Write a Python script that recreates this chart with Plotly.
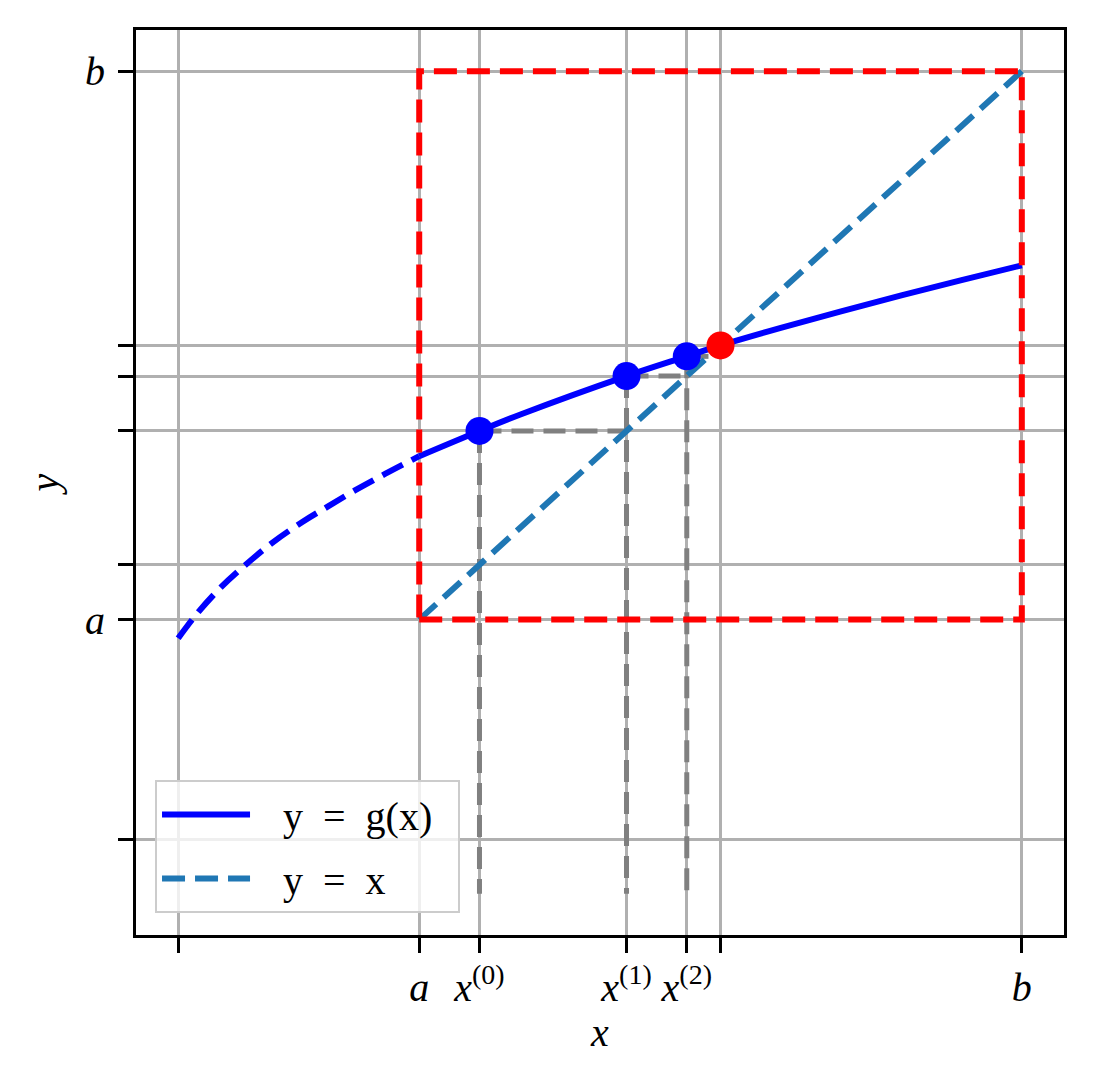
import plotly.graph_objects as go

# ---- data ----
a = 2.0
b = 7.0
x_star = 4.5
iterates = [2.5, 3.72, 4.22, 4.40]          # x(0), x(1), x(2), x(3) = g(x(2))
y_floor = -0.5                               # lower end of the vertical guide lines

# g(x) outside [a, b] (dashed part), read point by point
ext_x = [0.0, 0.16, 0.36, 0.56, 0.78, 1.03, 1.24, 1.47, 1.72, 2.0]
ext_y = [1.83, 2.06, 2.30, 2.50, 2.70, 2.89, 3.03, 3.18, 3.33, 3.49]
# g(x) on [a, b] (solid part)
g_x = [2.0, 2.5, 2.84, 3.72, 4.22, 4.5, 5.0, 5.5, 6.0, 6.5, 7.0]
g_y = [3.49, 3.72, 3.87, 4.22, 4.40, 4.5, 4.66, 4.81, 4.955, 5.095, 5.23]

x_major_vals = [a, iterates[0], iterates[1], iterates[2], b]
x_major_text = ["<i>a</i>", "<i>x</i><sup>(0)</sup>", "<i>x</i><sup>(1)</sup>",
                "<i>x</i><sup>(2)</sup>", "<i>b</i>"]
x_minor_vals = [0.0, x_star]
y_major_vals = [a, b]
y_major_text = ["<i>a</i>", "<i>b</i>"]
y_minor_vals = [0.0, iterates[0], iterates[1], iterates[2], x_star]

# ---- figure ----
BLUE = "#0000ff"
TAB_BLUE = "#1f77b4"
RED = "#ff0000"
GRAY = "#808080"
FONT = "Liberation Serif"
SP = "\u2002"

fig = go.Figure()

# cobweb guide lines
for k in range(3):
    xk, xk1 = iterates[k], iterates[k + 1]
    fig.add_trace(go.Scatter(x=[xk, xk], y=[xk1, y_floor], mode="lines",
                             line=dict(color=GRAY, width=5, dash="22px,10px"),
                             showlegend=False, hoverinfo="skip"))
    fig.add_trace(go.Scatter(x=[xk, xk1], y=[xk1, xk1], mode="lines",
                             line=dict(color=GRAY, width=5, dash="22px,10px"),
                             showlegend=False, hoverinfo="skip"))

# y = x
fig.add_trace(go.Scatter(x=[a, b], y=[a, b], mode="lines",
                         name=SP + "\u2009y" + SP + "=" + SP + "x",
                         line=dict(color=TAB_BLUE, width=6, dash="23px,10px"),
                         legendrank=2, legendgroup="g2"))

# g(x) dashed extension
fig.add_trace(go.Scatter(x=ext_x, y=ext_y, mode="lines", showlegend=False,
                         line=dict(color=BLUE, width=6, dash="23px,10px", shape="spline")))
# g(x) solid
fig.add_trace(go.Scatter(x=g_x, y=g_y, mode="lines",
                         name=SP + "\u2009y" + SP + "=" + SP + "g(x)" + SP,
                         line=dict(color=BLUE, width=6, shape="spline"),
                         legendrank=1, legendgroup="g1"))

# [a,b] x [a,b] box
fig.add_trace(go.Scatter(x=[a, b, b, a, a], y=[a, a, b, b, a], mode="lines",
                         line=dict(color=RED, width=6, dash="23px,10px"),
                         showlegend=False, hoverinfo="skip"))

# iterates on the curve
fig.add_trace(go.Scatter(x=iterates[:3], y=iterates[1:], mode="markers",
                         marker=dict(color=BLUE, size=28), showlegend=False))
# fixed point
fig.add_trace(go.Scatter(x=[x_star], y=[x_star], mode="markers",
                         marker=dict(color=RED, size=28), showlegend=False))

axis_common = dict(
    showgrid=True, gridcolor="#b0b0b0", gridwidth=2.5,
    zeroline=False, showline=True, linecolor="black", linewidth=3, mirror=True,
    ticks="outside", ticklen=15, tickwidth=3, tickcolor="black",
    tickfont=dict(family=FONT, size=40, color="black"),
    tickmode="array",
)
minor_common = dict(tickmode="array", ticks="outside", ticklen=15, tickwidth=3,
                    tickcolor="black", showgrid=True, gridcolor="#b0b0b0", gridwidth=2.5)

fig.update_layout(
    width=1086, height=1077,
    margin=dict(l=128, r=30, t=22, b=150),
    paper_bgcolor="white", plot_bgcolor="white",
    showlegend=True,
    legend=dict(x=0.0205, y=0.0243, xanchor="left", yanchor="bottom",
                bgcolor="rgba(255,255,255,0.8)", bordercolor="#cccccc", borderwidth=2,
                font=dict(family=FONT, size=40, color="black"), itemwidth=88,
                traceorder="grouped", tracegroupgap=9),
    xaxis=dict(range=[-0.35, 7.35], tickvals=x_major_vals, ticktext=x_major_text,
               minor=dict(tickvals=x_minor_vals, **minor_common),
               title=dict(text="<i>x</i>", font=dict(family=FONT, size=40, color="black"),
                          standoff=6),
               **axis_common),
    yaxis=dict(range=[-0.875, 7.375], tickvals=y_major_vals, ticktext=y_major_text,
               minor=dict(tickvals=y_minor_vals, **minor_common),
               ticklabelstandoff=5,
               title=dict(text="<i>y</i>", font=dict(family=FONT, size=40, color="black"),
                          standoff=15),
               **axis_common),
)

fig.write_html("out.html")
